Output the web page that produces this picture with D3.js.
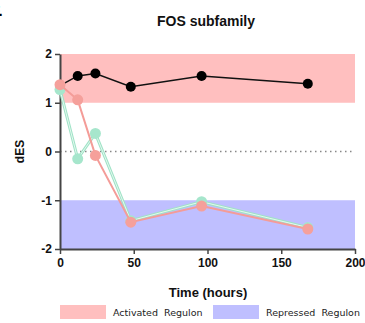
<!DOCTYPE html>
<html>
<head>
<meta charset="utf-8">
<script src="https://cdn.jsdelivr.net/npm/d3@7"></script>
<style>
  html, body { margin: 0; padding: 0; background: #fff; }
  svg { display: block; font-family: "Liberation Sans", Arial, sans-serif; }
</style>
</head>
<body>
<svg id="chart" width="365" height="323"></svg>
<script>
// Time points (hours)
const hours = [0, 12, 24, 48, 96, 168];
// dES per series
const blackSeries = [1.35, 1.55, 1.60, 1.33, 1.55, 1.39];
const pinkSeries  = [1.37, 1.06, -0.08, -1.45, -1.12, -1.59];
const mintSeries  = [1.27, -0.15, 0.37, -1.42, -1.03, -1.56];
// Axis ticks
const xTicks = [0, 50, 100, 150, 200];
const yTicks = [-2, -1, 0, 1, 2];
// Regulon bands
const bands = [
  { name: "Activated  Regulon", lo: 1, hi: 2, color: "#ffbfbf" },
  { name: "Repressed  Regulon", lo: -2, hi: -1, color: "#bfbfff" }
];

const svg = d3.select("#chart");
const x = d3.scaleLinear().domain([0, 200]).range([60, 355]);
const y = d3.scaleLinear().domain([-2, 2]).range([249, 54]);

// panel letter
svg.append("text").attr("x", -9).attr("y", 16)
  .attr("font-size", 15).attr("font-weight", "bold").text("F.");

// title
svg.append("text").attr("x", 206).attr("y", 26).attr("text-anchor", "middle")
  .attr("font-size", 14).attr("font-weight", "bold").attr("fill", "#111")
  .text("FOS subfamily");

// bands
svg.selectAll("rect.band").data(bands).enter().append("rect")
  .attr("class", "band")
  .attr("x", x(0)).attr("width", x(200) - x(0))
  .attr("y", d => y(d.hi)).attr("height", d => y(d.lo) - y(d.hi))
  .attr("fill", d => d.color);

// zero line
svg.append("line").attr("x1", x(0)).attr("x2", x(200))
  .attr("y1", y(0)).attr("y2", y(0))
  .attr("stroke", "#888").attr("stroke-width", 1.5).attr("stroke-dasharray", "1.5,3.5");

// axes
const yAxis = svg.append("g").attr("transform", `translate(${x(0)},0)`)
  .call(d3.axisLeft(y).tickValues(yTicks).tickFormat(d => String(d)).tickSize(5).tickSizeOuter(0));
const xAxis = svg.append("g").attr("transform", `translate(0,${y(-2)})`)
  .call(d3.axisBottom(x).tickValues(xTicks).tickFormat(d => String(d)).tickSize(5).tickSizeOuter(0));
[yAxis, xAxis].forEach(g => {
  g.select(".domain").attr("stroke", "#444").attr("stroke-width", 2);
  g.selectAll(".tick line").attr("stroke", "#444").attr("stroke-width", 1.5);
  g.selectAll(".tick text").attr("font-size", 12).attr("font-weight", "bold")
    .attr("fill", "#111").attr("font-family", "Liberation Sans, Arial, sans-serif");
});
yAxis.selectAll(".tick text").attr("x", -8);
xAxis.selectAll(".tick text").attr("y", 9);

// axis titles
svg.append("text").attr("transform", `translate(24,${y(0)}) rotate(-90)`)
  .attr("text-anchor", "middle").attr("font-size", 12).attr("font-weight", "bold")
  .attr("fill", "#111").text("dES");
svg.append("text").attr("x", 208).attr("y", 297).attr("text-anchor", "middle")
  .attr("font-size", 13).attr("font-weight", "bold").attr("fill", "#111")
  .text("Time (hours)");

// series
const line = d3.line().x((d, i) => x(hours[i])).y(d => y(d));
function drawSeries(vals, stroke, fill, width, inner, r) {
  const g = svg.append("g");
  g.append("path").datum(vals).attr("d", line).attr("fill", "none")
    .attr("stroke", stroke).attr("stroke-width", width);
  if (inner) {
    g.append("path").datum(vals).attr("d", line).attr("fill", "none")
      .attr("stroke", inner).attr("stroke-width", 1);
  }
  g.selectAll("circle").data(vals).enter().append("circle")
    .attr("cx", (d, i) => x(hours[i])).attr("cy", d => y(d))
    .attr("r", r).attr("fill", fill);
}
drawSeries(blackSeries, "#111", "#000", 1.5, null, 5);
drawSeries(mintSeries, "#9fe3c6", "#a6e6cc", 3, "#e4f8f0", 5.5);
drawSeries(pinkSeries, "#f49c98", "#f5a09b", 2, null, 5.5);

// legend
const lg = svg.append("g");
const legendX = [60, 213];
bands.forEach((b, i) => {
  lg.append("rect").attr("x", legendX[i]).attr("y", 305).attr("width", 46).attr("height", 14)
    .attr("fill", b.color);
  lg.append("text").attr("x", legendX[i] + 53).attr("y", 315.5)
    .attr("font-size", 9.5).attr("fill", "#222")
    .attr("font-family", "DejaVu Sans, sans-serif")
    .style("white-space", "pre").text(b.name);
});
</script>
</body>
</html>
